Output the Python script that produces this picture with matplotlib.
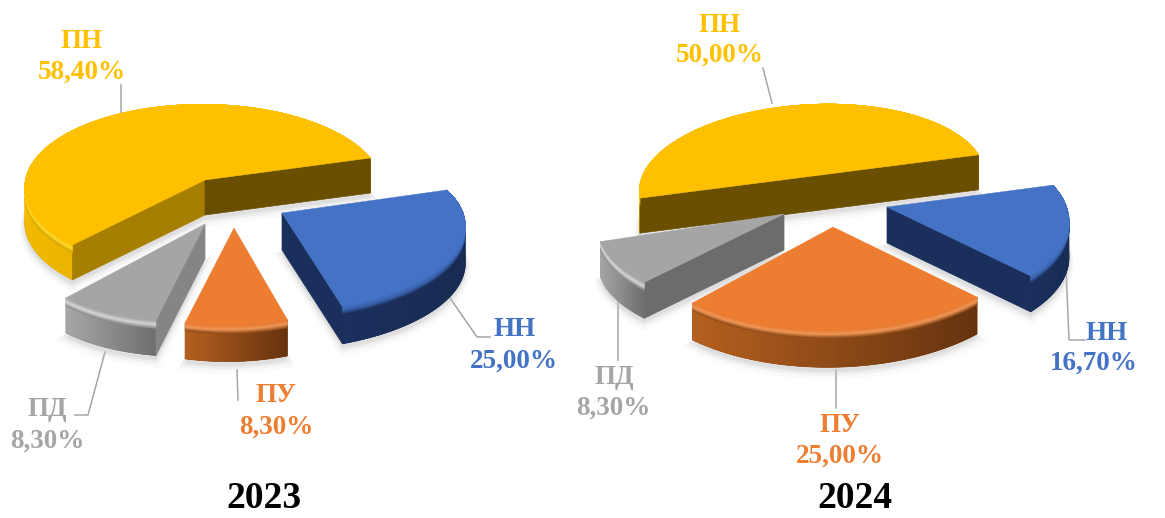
import numpy as np
import matplotlib
matplotlib.use("Agg")
import matplotlib.pyplot as plt
from matplotlib.colors import to_rgb

plt.rcParams['font.family'] = ['Liberation Serif', 'DejaVu Serif']

# data
names = ['НН', 'ПУ', 'ПД', 'ПН']
values_2023 = [25.0, 8.3, 8.3, 58.4]
values_2024 = [16.7, 25.0, 8.3, 50.0]
years = ['2023', '2024']
start_2023 = -20.0
start_2024 = -13.0

# colours for each slice: top, rim highlight, wall left, wall right
style = {
    'НН': ('#4472C4', '#3A62AC', '#1B305E', '#182B52'),
    'ПУ': ('#ED7D31', '#F39A5C', '#B5601F', '#66330F'),
    'ПД': ('#A5A5A5', '#DADADA', '#A8A8A8', '#6E6E6E'),
    'ПН': ('#FFC000', '#FFD92E', '#F2BA00', '#B88C00'),
}
# cut face colours (first edge, second edge)
cuts_2023 = {'НН': ('#1A2F5C', '#1A2F5C'), 'ПУ': ('#A05020', '#A05020'),
             'ПД': ('#858585', '#858585'), 'ПН': ('#A67E00', '#6B4F00')}
cuts_2024 = {'НН': ('#1A2F5C', '#1A2F5C'), 'ПУ': ('#A05020', '#A05020'),
             'ПД': ('#6C6C6C', '#6C6C6C'), 'ПН': ('#6B4F00', '#6B4F00')}
label_colors = {'НН': '#4472C4', 'ПУ': '#ED7D31', 'ПД': '#A5A5A5', 'ПН': '#FFC000'}

# geometry of each slice: apex x, apex y, ax, ay, bx, by, perspective k, depth
geom_2023 = {
    'НН': (282, 213, 182, 3, -14, 80, 0.2, 37),
    'ПУ': (234, 228, 160, 4, -12, 78, 0.2, 36),
    'ПД': (205, 224, 172, -4, -10, 78, 0.2, 35),
    'ПН': (205, 180, 178, 6, -11, 83, 0.1, 35),
}
geom_2024 = {
    'НН': (887, 207, 178, -4, 2, 84, 0.2, 36),
    'ПУ': (833, 227, 201, -8, 10, 103, 0.0, 37),
    'ПД': (784, 214, 186, -8, 9, 85, 0.1, 36),
    'ПН': (813, 176, 172, -4, -7, 79, 0.1, 35),
}
draw_order_2023 = ['ПН', 'ПД', 'ПУ', 'НН']
draw_order_2024 = ['ПН', 'ПД', 'НН', 'ПУ']

# labels: name position, value position, leader line
labels_2023 = {
    'ПН': ((82, 41), (82, 72), [(121, 113), (121, 85)]),
    'НН': ((515, 330), (514, 361), [(450, 298), (477, 337), (490, 337)]),
    'ПУ': ((276, 396), (276, 427), [(237, 370), (238, 400)]),
    'ПД': ((47, 410), (47, 441), [(105, 352), (88, 415), (75, 415)]),
}
labels_2024 = {
    'ПН': ((720, 25), (720, 55), [(772, 103), (763, 68)]),
    'НН': ((1107, 334), (1094, 363), [(1066, 267), (1069, 340), (1085, 340)]),
    'ПУ': ((840, 425), (840, 456), [(836, 370), (836, 408)]),
    'ПД': ((614, 377), (613, 408), [(618, 302), (618, 360)]),
}
title_pos = [(264, 499), (855, 499)]


def mix(c1, c2, f):
    a = np.array(to_rgb(c1))
    b = np.array(to_rgb(c2))
    return tuple(a + (b - a) * f)


def arc_points(g, t):
    x0, y0, ax_, ay_, bx, by, k, d = g
    s = 1.0 / (1.0 - k * np.sin(t))
    x = x0 + (ax_ * np.cos(t) + bx * np.sin(t)) * s
    y = y0 + (ay_ * np.cos(t) + by * np.sin(t)) * s
    return x, y


def draw_slice(ax, name, g, a1, a2, cuts):
    top, rim, wall_l, wall_r = style[name]
    x0, y0, d = g[0], g[1], g[7]
    t = np.radians(np.linspace(a1, a2, 120))
    x, y = arc_points(g, t)

    # soft shadow under the slice
    for off, alpha in zip([7, 5, 3], [0.08, 0.12, 0.18]):
        ax.fill(np.r_[x0, x, x0], np.r_[y0, y, y0] + d + off,
                color='#C4C4C4', alpha=alpha, lw=off)

    # outer wall: a base polygon, then small quads for the left-right shading
    ax.fill(np.r_[x, x[::-1]], np.r_[y, (y + d)[::-1]],
            color=mix(wall_l, wall_r, 0.5), lw=0.5)
    xmin, xmax = x.min(), x.max()
    for i in range(len(t) - 1):
        f = (x[i] - xmin) / max(xmax - xmin, 1)
        c = mix(wall_l, wall_r, f)
        j = min(i + 2, len(t) - 1)
        ax.fill([x[i], x[j], x[j], x[i]],
                [y[i], y[j], y[j] + d, y[i] + d],
                color=c, lw=0)

    # cut faces, only the ones turned to the viewer
    mid = np.radians((a1 + a2) / 2)
    mx, my = arc_points(g, mid)
    mx, my = mx - x0, my - y0
    for cx, cy, col in [(x[0], y[0], cuts[0]), (x[-1], y[-1], cuts[1])]:
        dx, dy = cx - x0, cy - y0
        nx, ny = -dy, dx
        if nx * mx + ny * my > 0:
            nx, ny = -nx, -ny
        if ny > 0:
            ax.fill([x0, cx, cx, x0], [y0, cy, cy + d, y0 + d], color=col, lw=0.5)

    # bevel on the arc, fades out where the arc turns to the back
    n = 12
    bevel = 8.0 * np.clip(np.sin(t) * 4 + 0.2, 0, 1)
    wall_mid = mix(wall_l, wall_r, 0.5)
    for j in range(n):
        u = j / n
        if u < 0.5:
            c = mix(wall_mid, rim, u * 2)
        else:
            c = mix(rim, top, (u - 0.5) * 2)
        y1 = y + bevel * (1 - u)
        y2 = y + bevel * (1 - (j + 1) / n)
        ax.fill(np.r_[x, x[::-1]], np.r_[y1, y2[::-1]], color=c, lw=0.3)

    # top face
    ax.fill(np.r_[x0, x], np.r_[y0, y], color=top, lw=0.3)


fig = plt.figure(figsize=(11.65, 5.18), dpi=100)
ax = fig.add_axes([0, 0, 1, 1])
ax.set_xlim(0, 1165)
ax.set_ylim(518, 0)
ax.axis('off')

pies = [(values_2023, start_2023, geom_2023, draw_order_2023, labels_2023, cuts_2023),
        (values_2024, start_2024, geom_2024, draw_order_2024, labels_2024, cuts_2024)]

for p, (vals, start, geom, order, labs, cuts) in enumerate(pies):
    sweep = np.array(vals) / sum(vals) * 360.0
    edges = start + np.r_[0, np.cumsum(sweep)]
    angle = {n: (edges[i], edges[i + 1]) for i, n in enumerate(names)}

    # leader lines go under the slices
    for n in names:
        pts = np.array(labs[n][2])
        ax.plot(pts[:, 0], pts[:, 1], color='#A6A6A6', lw=1.1, zorder=0.5)

    for n in order:
        draw_slice(ax, n, geom[n], angle[n][0], angle[n][1], cuts[n])

    for i, n in enumerate(names):
        txt = '{:.2f}%'.format(vals[i]).replace('.', ',')
        ax.text(*labs[n][0], n, color=label_colors[n], fontsize=19.5, fontweight='bold',
                ha='center', va='center', zorder=5)
        ax.text(*labs[n][1], txt, color=label_colors[n], fontsize=19.5, fontweight='bold',
                ha='center', va='center', zorder=5)

    ax.text(*title_pos[p], years[p], color='black', fontsize=27, fontweight='bold',
            ha='center', va='center', zorder=5)

fig.savefig('out.png', dpi=100)
